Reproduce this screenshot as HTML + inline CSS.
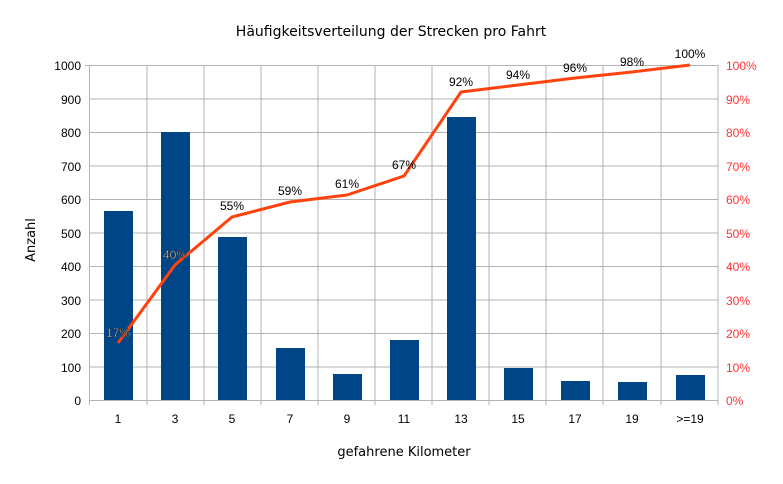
<!DOCTYPE html><html><head><style>body{margin:0;background:#fff}</style></head><body>
<svg width="783" height="479" xmlns="http://www.w3.org/2000/svg" font-family="Liberation Sans, sans-serif">
<rect width="783" height="479" fill="#fff"/>
<text x="391" y="36" text-anchor="middle" font-size="14" font-family="DejaVu Sans, sans-serif">Häufigkeitsverteilung der Strecken pro Fahrt</text>
<g stroke="#b3b3b3" stroke-width="1">
<line x1="90" y1="65.5" x2="718" y2="65.5"/><line x1="90" y1="132.5" x2="718" y2="132.5"/><line x1="90" y1="199.5" x2="718" y2="199.5"/><line x1="90" y1="266.5" x2="718" y2="266.5"/><line x1="90" y1="333.5" x2="718" y2="333.5"/>
<line x1="90" y1="99" x2="718" y2="99"/><line x1="90" y1="166" x2="718" y2="166"/><line x1="90" y1="233" x2="718" y2="233"/><line x1="90" y1="300" x2="718" y2="300"/><line x1="90" y1="367" x2="718" y2="367"/><line x1="90" y1="400.5" x2="718" y2="400.5"/>
<line x1="89.5" y1="65" x2="89.5" y2="405"/><line x1="147" y1="65" x2="147" y2="405"/><line x1="204" y1="65" x2="204" y2="405"/><line x1="261" y1="65" x2="261" y2="405"/><line x1="318" y1="65" x2="318" y2="405"/><line x1="375" y1="65" x2="375" y2="405"/><line x1="432" y1="65" x2="432" y2="405"/><line x1="489" y1="65" x2="489" y2="405"/><line x1="546" y1="65" x2="546" y2="405"/><line x1="603" y1="65" x2="603" y2="405"/><line x1="661" y1="65" x2="661" y2="405"/><line x1="718" y1="65" x2="718" y2="405"/>
<line x1="85" y1="65.5" x2="90" y2="65.5"/>
</g>
<g fill="#004586">
<rect x="104" y="211" width="29" height="189"/><rect x="161" y="132" width="29" height="268"/><rect x="218" y="237" width="29" height="163"/><rect x="276" y="348" width="29" height="52"/><rect x="333" y="374" width="29" height="26"/><rect x="390" y="340" width="29" height="60"/><rect x="447" y="117" width="29" height="283"/><rect x="504" y="368" width="29" height="32"/><rect x="561" y="381" width="29" height="19"/><rect x="618" y="382" width="29" height="18"/><rect x="676" y="375" width="29" height="25"/>
</g>
<polyline fill="none" stroke="#ff420e" stroke-width="3" stroke-linejoin="round" points="118,343 175,265 232,217 290,202 347,195 404,176 461,92 518,85 575,78 632,72 690,65"/>
<g font-size="12" text-anchor="middle">
<text x="118" y="337" fill="#fff" stroke="#222" stroke-width="0.5">17%</text>
<text x="175" y="259" fill="#fff" stroke="#222" stroke-width="0.5">40%</text>
<text x="232" y="210">55%</text><text x="290" y="195">59%</text><text x="347" y="188">61%</text><text x="404" y="169">67%</text><text x="461" y="86">92%</text><text x="518" y="79">94%</text><text x="575" y="72">96%</text><text x="632" y="66">98%</text><text x="690" y="58">100%</text>
</g>
<g font-size="12" text-anchor="end">
<text x="81" y="70">1000</text><text x="81" y="137">800</text><text x="81" y="104">900</text><text x="81" y="171">700</text><text x="81" y="204">600</text><text x="81" y="238">500</text><text x="81" y="271">400</text><text x="81" y="305">300</text><text x="81" y="338">200</text><text x="81" y="372">100</text><text x="81" y="405">0</text>
</g>
<g font-size="12" fill="#ff3333">
<text x="726" y="70">100%</text><text x="726" y="104">90%</text><text x="726" y="137">80%</text><text x="726" y="171">70%</text><text x="726" y="204">60%</text><text x="726" y="238">50%</text><text x="726" y="271">40%</text><text x="726" y="305">30%</text><text x="726" y="338">20%</text><text x="726" y="372">10%</text><text x="726" y="405">0%</text>
</g>
<g font-size="12" text-anchor="middle">
<text x="118" y="423">1</text><text x="175" y="423">3</text><text x="232" y="423">5</text><text x="290" y="423">7</text><text x="347" y="423">9</text><text x="404" y="423">11</text><text x="461" y="423">13</text><text x="518" y="423">15</text><text x="575" y="423">17</text><text x="632" y="423">19</text><text x="690" y="423">&gt;=19</text>
<text x="404" y="456" font-size="13" font-family="DejaVu Sans, sans-serif">gefahrene Kilometer</text>
<text x="0" y="0" font-size="13" font-family="DejaVu Sans, sans-serif" transform="translate(35,240) rotate(-90)">Anzahl</text>
</g>
</svg></body></html>
